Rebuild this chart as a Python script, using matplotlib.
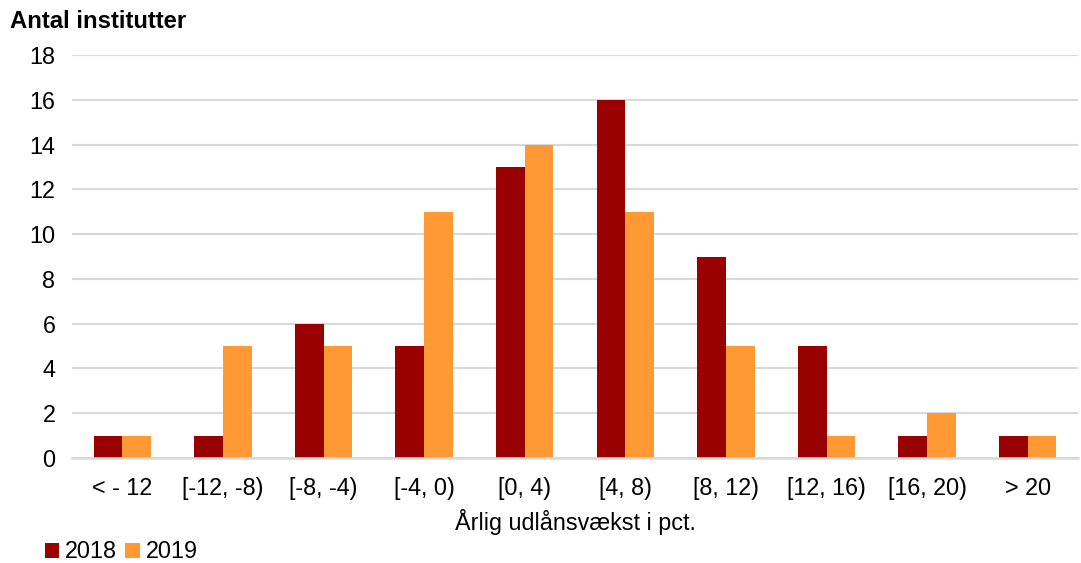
import matplotlib
matplotlib.use("Agg")
import matplotlib.pyplot as plt
import numpy as np

categories = ["< - 12", "[-12, -8)", "[-8, -4)", "[-4, 0)", "[0, 4)", "[4, 8)",
              "[8, 12)", "[12, 16)", "[16, 20)", "> 20"]
v2018 = [1, 1, 6, 5, 13, 16, 9, 5, 1, 1]
v2019 = [1, 5, 5, 11, 14, 11, 5, 1, 2, 1]
yticks = [0, 2, 4, 6, 8, 10, 12, 14, 16, 18]

plt.rcParams['font.family'] = ['Liberation Sans', 'DejaVu Sans']
fs = 16.8

fig = plt.figure(figsize=(10.81, 5.63), dpi=100)
ax = fig.add_axes([72/1081, 1-458/563, 1006/1081, (458-55)/563])

x = np.arange(len(categories))
w = 0.285
ax.bar(x - w/2, v2018, w, color="#990000", label="2018", zorder=3)
ax.bar(x + w/2, v2019, w, color="#FF9933", label="2019", zorder=3)

ax.set_xlim(-0.5, len(categories) - 0.5)
ax.set_ylim(0, 18)
ax.set_yticks(yticks)
ax.set_yticklabels([str(t) for t in yticks])
ax.set_xticks(x)
ax.set_xticklabels(categories)
ax.tick_params(axis='both', length=0, labelsize=fs, colors="#000000")
ax.tick_params(axis='y', pad=12)
ax.tick_params(axis='x', pad=14)
ax.yaxis.grid(True, color="#D9D9D9", linewidth=1.5, zorder=0)
for s in ["top", "right", "left"]:
    ax.spines[s].set_visible(False)
ax.spines["bottom"].set_color("#D9D9D9")
ax.spines["bottom"].set_linewidth(1.8)
ax.spines["bottom"].set_zorder(4)

fig.text(575/1081, 1-522/563, "Årlig udlånsvækst i pct.", ha="center", va="center", fontsize=fs)
fig.text(10/1081, 1-22/563, "Antal institutter", ha="left", va="center", fontsize=17.2, fontweight="bold")

leg = fig.legend(loc="center left", bbox_to_anchor=(45/1081, 1-552/563), ncol=2, frameon=False,
                 fontsize=fs, handlelength=0.62, handleheight=0.62, handletextpad=0.25,
                 columnspacing=0.35, borderaxespad=0, borderpad=0)

fig.savefig("out.png", dpi=100)
